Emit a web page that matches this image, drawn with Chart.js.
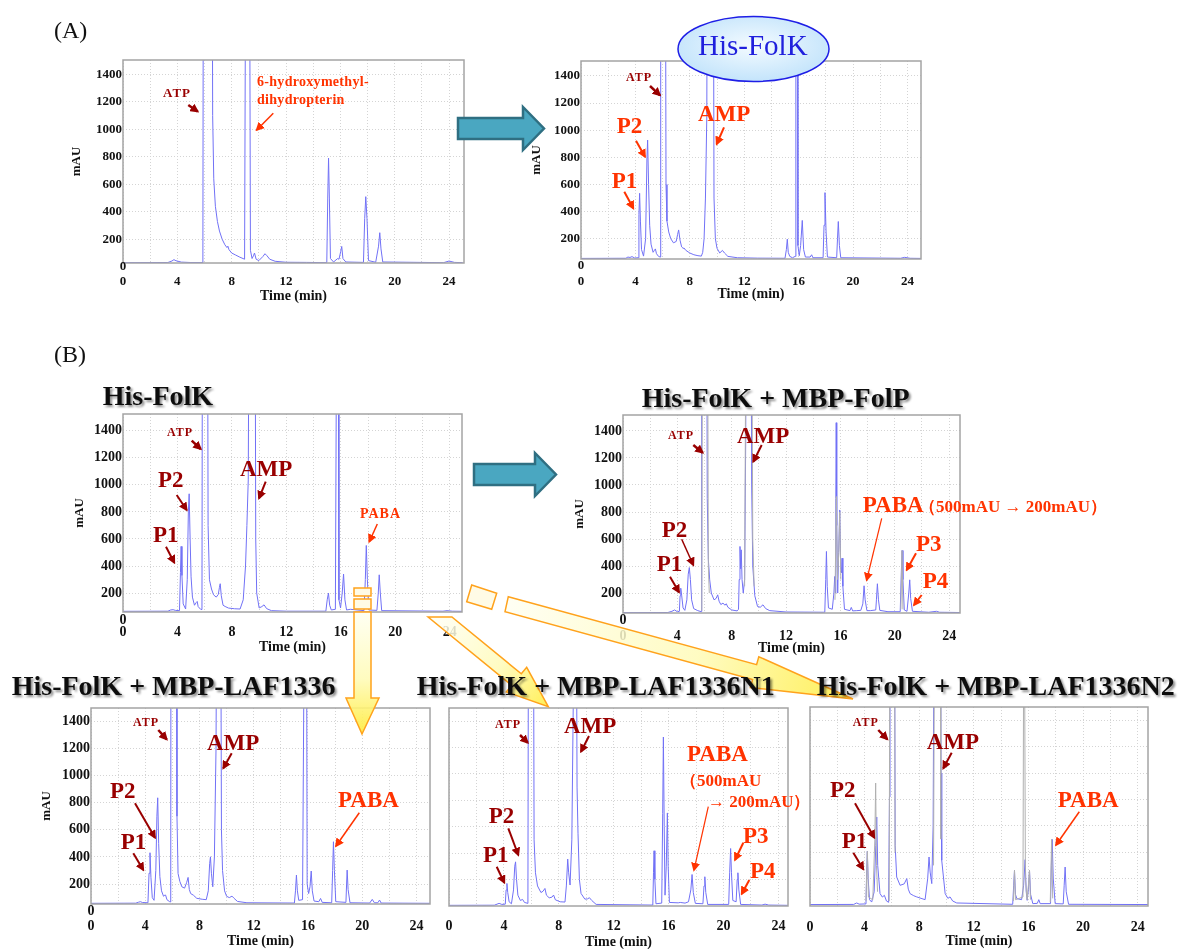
<!DOCTYPE html>
<html>
<head>
<meta charset="utf-8">
<script src="https://cdn.jsdelivr.net/npm/chart.js@4.4.1/dist/chart.umd.min.js"></script>
<style>
  html, body { margin: 0; padding: 0; background: #fff; }
  #wrap { position: relative; width: 1189px; height: 949px; overflow: hidden; }
  #wrap canvas { position: absolute; }
  #overlay { position: absolute; left: 0; top: 0; z-index: 2; }
</style>
</head>
<body>
<div id="wrap">
  <svg id="overlay" width="1189" height="949" xmlns="http://www.w3.org/2000/svg"></svg>
</div>
<script>
// ---- axis ticks ----
const xGrid = [0, 2, 4, 6, 8, 10, 12, 14, 16, 18, 20, 22, 24];
const xLabels = [0, 4, 8, 12, 16, 20, 24];
const yGrid = [200, 400, 600, 800, 1000, 1200, 1400];
const yZero = 0;

// ---- traces: [time (min), mAU]; values above the axis top are clipped ----
// (A) substrates only
const controlA = [
  [0,30],[3.3,31],[3.6,42],[3.75,52],[3.9,44],[4.3,34],[5.0,31],[5.88,31],
  [5.92,3000],[6.55,3000],[6.6,1100],[6.68,640],[6.8,440],[6.95,330],[7.1,260],[7.3,200],[7.5,160],[7.65,140],[7.72,150],[7.8,125],[8.0,100],[8.3,85],[8.6,70],[8.95,55],
  [9.05,3000],[9.3,3000],[9.38,120],[9.5,60],[9.6,80],[9.68,100],[9.8,55],[10.0,45],[10.3,75],[10.45,95],[10.6,80],[10.8,55],[11.2,40],[12,33],[13.5,32],[15.0,30],
  [15.07,500],[15.13,790],[15.19,500],[15.27,60],[15.5,35],[15.8,60],[15.9,55],[16.02,110],[16.1,148],[16.19,60],[16.4,35],[17.7,32],
  [17.79,350],[17.87,510],[17.96,350],[18.07,45],[18.6,33],[18.81,150],[18.9,248],[18.99,130],[19.12,35],[23.6,30],[24.0,42],[24.4,32],[25,30]
];
// (A) His-FolK
const folK_A = [
  [0,55],[3.3,56],[3.45,65],[3.6,62],[3.75,68],[3.95,58],[4.2,60],[4.26,380],[4.31,535],[4.37,330],[4.45,120],[4.6,72],[4.75,200],[4.85,800],[4.9,927],[4.97,600],[5.05,300],[5.15,160],[5.3,100],[5.4,115],[5.47,125],[5.55,90],[5.7,70],[5.82,65],
  [5.86,3000],[6.2,3000],[6.25,600],[6.32,330],[6.45,250],[6.6,200],[6.8,170],[7.0,180],[7.1,230],[7.18,265],[7.28,190],[7.4,140],[7.5,130],[7.57,132],[7.7,115],[8.0,95],[8.3,82],[8.6,75],[8.85,72],
  [8.95,100],[9.05,200],[9.15,500],[9.25,1100],[9.3,3000],[9.72,3000],[9.78,500],[9.88,200],[10.0,130],[10.2,95],[10.4,114],[10.55,95],[10.8,70],[11.5,60],[13,57],[15.0,56],
  [15.1,120],[15.17,197],[15.24,100],[15.35,70],[15.55,60],[15.75,70],[15.8,3000],[15.9,3000],[15.95,150],[16.05,75],[16.15,150],[16.27,335],[16.37,120],[16.5,65],[16.85,65],[16.96,82],[17.05,60],
  [17.8,60],[17.87,300],[17.94,540],[18.02,250],[18.12,65],[18.8,60],[18.86,200],[18.92,327],[19.0,150],[19.1,60],[23.5,56],[23.8,63],[24.2,56],[25,55]
];
// (B) His-FolK
const folK_B = [
  [0,65],[3.3,66],[3.5,75],[3.68,77],[3.85,72],[4.15,70],[4.22,350],[4.27,545],[4.33,330],[4.42,120],[4.6,82],[4.72,300],[4.8,800],[4.86,934],[4.93,600],[5.0,320],[5.1,170],[5.25,110],[5.38,130],[5.45,138],[5.52,100],[5.7,80],[5.8,78],
  [5.84,3000],[6.2,3000],[6.25,700],[6.35,298],[6.5,230],[6.65,187],[6.85,170],[7.0,190],[7.08,240],[7.14,269],[7.22,180],[7.35,110],[7.5,101],[7.75,89],[8.2,84],[8.6,82],
  [8.83,150],[9.0,400],[9.1,700],[9.2,1037],[9.28,3000],[9.69,3000],[9.75,600],[9.82,200],[10.0,90],[10.2,100],[10.36,113],[10.55,85],[10.9,70],[12,66],[14.9,66],
  [15.0,150],[15.09,200],[15.18,110],[15.3,75],[15.6,80],[15.72,3000],[15.8,3000],[15.86,150],[15.98,90],[16.1,200],[16.2,341],[16.3,150],[16.42,75],[16.7,80],[17.7,70],
  [17.8,300],[17.87,552],[17.95,300],[18.05,75],[18.65,72],[18.75,200],[18.82,335],[18.9,200],[19.0,70],[23.5,66],[23.8,70],[24.2,66],[25,65]
];
// His-FolK + MBP-FolP (blue) with the His-FolK reference (gray)
const folP_blue = [
  [0,55],[3.3,56],[3.6,65],[3.8,75],[4.0,62],[4.15,65],[4.2,180],[4.25,236],[4.32,180],[4.42,90],[4.55,72],[4.7,150],[4.8,340],[4.88,389],[4.96,300],[5.05,150],[5.2,85],[5.5,70],[5.77,62],
  [5.79,3000],[6.15,3000],[6.2,900],[6.28,450],[6.38,298],[6.5,200],[6.7,150],[6.85,160],[6.97,187],[7.07,140],[7.2,115],[7.36,126],[7.5,110],[7.6,121],[7.72,95],[8.0,75],[8.4,68],
  [8.5,80],[8.55,300],[8.61,545],[8.66,380],[8.7,520],[8.76,300],[8.85,200],[8.95,300],[9.03,1334],[9.08,3000],[9.4,3000],[9.47,1000],[9.55,400],[9.7,180],[9.9,101],[10.1,95],[10.3,113],[10.5,85],[10.8,70],[12,60],[14.85,58],
  [14.92,300],[14.97,508],[15.03,250],[15.12,90],[15.4,80],[15.52,200],[15.58,323],[15.63,200],[15.66,900],[15.69,1461],[15.73,700],[15.8,200],[15.87,500],[15.95,815],[16.02,400],[16.08,350],[16.12,458],[16.18,250],[16.3,80],
  [16.7,70],[16.8,94],[16.9,68],[17.2,70],[17.5,72],[17.65,120],[17.74,254],[17.82,150],[17.95,70],[18.2,70],[18.6,75],[18.65,150],[18.72,269],[18.8,150],[18.9,72],[19.5,62],
  [20.4,62],[20.48,350],[20.54,515],[20.6,300],[20.7,75],[20.9,65],[21.03,200],[21.1,298],[21.17,160],[21.3,65],[22.5,58],[23.07,65],[23.3,58],[24.8,56]
];
const folP_gray = [
  [5.8,70],[5.86,3000],[6.21,3000],[6.28,400],[6.35,200],[6.4,null],
  [8.95,250],[9.08,3000],[9.45,3000],[9.55,600],[9.65,250],[9.7,null],
  [15.6,150],[15.7,915],[15.78,300],[15.88,500],[15.95,800],[16.03,300],[16.1,null],
  [20.45,80],[20.53,515],[20.6,80]
];
// His-FolK + MBP-LAF1336
const laf1336 = [
  [0,58],[3.3,59],[3.5,66],[3.64,70],[3.8,64],[4.2,62],[4.28,280],[4.35,431],[4.42,250],[4.52,100],[4.65,80],[4.78,300],[4.86,700],[4.92,836],[4.99,500],[5.08,254],[5.2,150],[5.35,110],[5.45,119],[5.5,119],[5.6,85],[5.8,70],[5.88,68],
  [5.9,3000],[6.3,3000],[6.34,700],[6.42,278],[6.55,220],[6.7,180],[6.9,170],[7.05,210],[7.16,249],[7.25,160],[7.35,130],[7.55,118],[7.8,95],[8.2,88],[8.5,85],
  [8.65,150],[8.75,350],[8.81,401],[8.88,280],[8.98,180],[9.1,400],[9.22,1200],[9.3,3000],[9.55,3000],[9.62,600],[9.7,300],[9.85,150],[10.0,110],[10.2,100],[10.4,111],[10.55,95],[10.8,72],[11.5,62],[15.0,60],
  [15.08,150],[15.15,266],[15.22,150],[15.32,80],[15.6,85],[15.78,3000],[15.88,3000],[15.94,200],[16.05,130],[16.15,180],[16.24,296],[16.32,150],[16.45,75],[16.8,70],[16.93,94],[17.05,65],
  [17.75,62],[17.82,300],[17.88,512],[17.95,300],[18.05,70],[18.8,65],[18.85,200],[18.89,303],[18.96,160],[19.1,62],[20.55,60],[20.74,87],[20.9,62],[21.15,62],[21.28,82],[21.4,60],[25,58]
];
// His-FolK + MBP-LAF1336N1
const laf1336N1 = [
  [0,3],[3.3,4],[3.5,12],[3.65,18],[3.85,10],[4.1,12],[4.16,120],[4.22,169],[4.28,100],[4.38,30],[4.55,15],[4.7,120],[4.79,300],[4.85,333],[4.92,200],[5.02,80],[5.2,40],[5.36,48],[5.5,25],[5.75,18],
  [5.8,3000],[6.14,3000],[6.2,500],[6.3,250],[6.45,150],[6.7,100],[6.85,110],[6.99,131],[7.1,80],[7.3,60],[7.5,65],[7.62,81],[7.75,45],[8.1,30],[8.45,28],
  [8.55,150],[8.65,354],[8.72,250],[8.82,157],[8.95,500],[9.05,1500],[9.09,3000],[9.26,3000],[9.33,900],[9.4,550],[9.5,200],[9.62,93],[9.9,50],[10.1,52],[10.23,61],[10.4,40],[10.72,10],[14.85,5],
  [14.9,250],[14.94,417],[15.0,200],[15.08,15],[15.5,20],[15.57,700],[15.62,1280],[15.68,600],[15.74,80],[15.83,300],[15.91,704],[15.97,300],[16.06,25],[16.7,22],[16.85,25],[17.2,20],[17.45,30],
  [17.62,120],[17.71,237],[17.8,100],[17.95,18],[18.5,15],[18.58,150],[18.64,220],[18.71,100],[18.85,10],[20.38,10],[20.45,250],[20.52,434],[20.58,250],[20.68,40],[20.92,30],[21.0,200],[21.05,250],[21.12,120],[21.25,10],
  [22.8,5],[23.03,12],[23.3,5],[24.7,3]
];
// His-FolK + MBP-LAF1336N2 (blue) with the His-FolK reference (gray)
const laf1336N2_blue = [
  [0,3],[3.2,4],[3.42,15],[3.6,6],[4.1,8],[4.15,250],[4.2,407],[4.26,200],[4.36,40],[4.52,22],[4.7,100],[4.82,450],[4.89,668],[4.96,300],[5.13,86],[5.3,60],[5.45,73],[5.6,30],[5.76,20],
  [5.82,820],[5.86,1500],[5.9,3000],[6.18,3000],[6.24,450],[6.35,212],[6.6,149],[6.9,160],[7.09,200],[7.2,120],[7.33,86],[7.6,70],[7.82,61],[8.43,40],
  [8.62,200],[8.72,364],[8.8,250],[8.92,162],[9.02,600],[9.12,3000],[9.55,3000],[9.6,1000],[9.65,339],[9.9,86],[10.1,50],[10.26,61],[10.45,30],[10.75,15],[14.85,5],
  [14.92,150],[14.98,263],[15.05,80],[15.15,48],[15.5,40],[15.65,150],[15.76,344],[15.84,100],[15.91,35],[16.0,120],[16.08,263],[16.16,80],[16.32,10],[16.65,12],[16.76,40],[16.86,10],
  [17.62,10],[17.68,300],[17.74,498],[17.82,200],[17.96,10],[18.55,8],[18.62,150],[18.69,288],[18.77,100],[18.94,5],[24.76,3]
];
const laf1336N2_gray = [
  [4.1,30],[4.2,407],[4.28,60],[4.6,40],[4.75,500],[4.81,926],[4.87,300],[4.95,100],[5.0,null],
  [5.8,30],[5.87,3000],[6.18,3000],[6.23,400],[6.3,null],
  [9.05,300],[9.16,3000],[9.53,3000],[9.58,500],[9.7,null],
  [14.9,30],[14.98,263],[15.05,40],[15.6,60],[15.68,3000],[15.72,3000],[15.78,200],[15.9,40],[16.0,150],[16.08,263],[16.15,40],[16.3,null],
  [17.6,20],[17.7,498],[17.78,50]
];

const BLUE = '#7171f6', GRAY = '#b0b0b0';
const DR = '#990000', OR = '#ff3300';
const SERIF = "'Liberation Serif', 'Times New Roman', serif";
const W = 62, H = 48, PT = 4, PR = 4;

const panels = [
  { l: 123, t: 60, r: 464, b: 263, xmax: 25.1, ymin: 27.6, ymax: 1504, yLab: true, tick: 13, tp: 11, ttp: 6.6, ytp: 7.6, series: [[controlA, BLUE]] },
  { l: 581, t: 61, r: 921, b: 259, xmax: 25.0, ymin: 50.7, ymax: 1510, yLab: true, tick: 13, tp: 14.6, ttp: 3.9, ytp: 9.9, series: [[folK_A, BLUE]] },
  { l: 123, t: 414, r: 462, b: 612, xmax: 24.9, ymin: 60, ymax: 1524, yLab: true, tick: 14, tp: 12.3, ttp: 3.9, ytp: 10.9, series: [[folK_B, BLUE]] },
  { l: 623, t: 415, r: 960, b: 613, xmax: 24.8, ymin: 52.5, ymax: 1518, yLab: true, tick: 14, tp: 15, ttp: 4.3, ytp: 10.9, series: [[folP_gray, GRAY], [folP_blue, BLUE]] },
  { l: 91, t: 708, r: 430, b: 904, xmax: 25.0, ymin: 53, ymax: 1498, yLab: true, tick: 14, tp: 14.3, ttp: 1.9, ytp: 10.2, series: [[laf1336, BLUE]] },
  { l: 449, t: 708, r: 788, b: 906, xmax: 24.7, ymin: -2, ymax: 1500, yLab: false, tick: 14, tp: 12.3, ttp: 2.9, ytp: 0, series: [[laf1336N1, BLUE]] },
  { l: 810, t: 707, r: 1148, b: 906, xmax: 24.76, ymin: -8, ymax: 1503, yLab: false, tick: 14, tp: 13.3, ttp: 4.6, ytp: 0, series: [[laf1336N2_gray, GRAY], [laf1336N2_blue, BLUE]] }
];

const framePlugin = {
  id: 'frame',
  afterDraw(chart, args, opts) {
    const { ctx, chartArea: a } = chart;
    ctx.save();
    ctx.strokeStyle = '#a4a4a4';
    ctx.lineWidth = 1.5;
    ctx.strokeRect(a.left, a.top, a.right - a.left, a.bottom - a.top);
    if (opts.zero) {
      ctx.fillStyle = '#111';
      ctx.font = 'bold ' + opts.size + 'px ' + SERIF;
      ctx.textAlign = 'center';
      ctx.textBaseline = 'middle';
      ctx.fillText(String(yZero), a.left, chart.scales.y.getPixelForValue(yZero));
    }
    ctx.restore();
  }
};

const wrap = document.getElementById('wrap');
const svg = document.getElementById('overlay');
const noPad = s => { s.paddingTop = 0; s.paddingBottom = 0; s.paddingLeft = 0; s.paddingRight = 0; };

panels.forEach(p => {
  const cv = document.createElement('canvas');
  cv.width = W + p.r - p.l + PR;
  cv.height = PT + p.b - p.t + H;
  cv.style.left = (p.l - W) + 'px';
  cv.style.top = (p.t - PT) + 'px';
  wrap.insertBefore(cv, svg);

  new Chart(cv, {
    type: 'line',
    data: {
      datasets: p.series.map(([pts, color], i) => ({
        data: pts.map(([x, y]) => ({ x, y })),
        borderColor: color,
        borderWidth: 1,
        pointRadius: 0,
        tension: 0,
        spanGaps: false,
        order: i
      }))
    },
    options: {
      responsive: false,
      animation: false,
      devicePixelRatio: 1,
      layout: { padding: { top: PT, right: PR, left: 0, bottom: 0 } },
      plugins: {
        legend: { display: false },
        tooltip: { enabled: false },
        frame: { zero: p.yLab, size: p.tick }
      },
      scales: {
        x: {
          type: 'linear', min: 0, max: p.xmax,
          afterBuildTicks: s => { s.ticks = xGrid.map(v => ({ value: v })); },
          afterFit: s => { s.height = H; noPad(s); },
          grid: { color: '#d4d4d4', lineWidth: 1, drawTicks: false },
          border: { display: false, dash: [1, 2] },
          ticks: {
            padding: p.tp, color: '#111', maxRotation: 0, autoSkip: false,
            font: { family: SERIF, size: p.tick, weight: 'bold' },
            callback: v => xLabels.includes(v) ? String(v) : ''
          },
          title: {
            display: true, text: 'Time (min)', color: '#111',
            font: { family: SERIF, size: 14, weight: 'bold' },
            padding: { top: 0, bottom: p.ttp }
          }
        },
        y: {
          type: 'linear', min: p.ymin, max: p.ymax,
          afterBuildTicks: s => { s.ticks = yGrid.map(v => ({ value: v })); },
          afterFit: s => { s.width = W; noPad(s); },
          grid: { color: '#d4d4d4', lineWidth: 1, drawTicks: false },
          border: { display: false, dash: [1, 2] },
          ticks: {
            display: p.yLab, padding: 1, color: '#111',
            font: { family: SERIF, size: p.tick, weight: 'bold' },
            callback: v => String(v)
          },
          title: {
            display: p.yLab, text: 'mAU', color: '#111',
            font: { family: SERIF, size: 13, weight: 'bold' },
            padding: { top: p.ytp, bottom: 0 }
          }
        }
      }
    },
    plugins: [framePlugin]
  });
});

// ---- overlay: titles, labels, pointer arrows, connector shapes ----
const NS = 'http://www.w3.org/2000/svg';
const el = (tag, attrs, parent = svg) => {
  const e = document.createElementNS(NS, tag);
  Object.entries(attrs).forEach(([k, v]) => e.setAttribute(k, v));
  parent.appendChild(e);
  return e;
};

const defs = el('defs', {});
[['mDR', DR], ['mOR', OR]].forEach(([id, c]) => {
  const m = el('marker', { id, viewBox: '0 0 10 10', refX: 8, refY: 5, markerUnits: 'userSpaceOnUse', markerWidth: 9, markerHeight: 9, orient: 'auto' }, defs);
  el('path', { d: 'M0,0 L10,5 L0,10 z', fill: c }, m);
});
const grad = (id, x1, y1, x2, y2, stops) => {
  const g = el('linearGradient', { id, gradientUnits: 'userSpaceOnUse', x1, y1, x2, y2 }, defs);
  stops.forEach(([o, c]) => el('stop', { offset: o, 'stop-color': c }, g));
};
const yellowStops = [[0, '#fffff2'], [0.55, '#fffbb8'], [1, '#ffec3a']];
grad('gDown', 0, 612, 0, 734, yellowStops);
grad('gN1', 440, 617, 548, 707, yellowStops);
grad('gN2', 507, 604, 853, 699, yellowStops);
const rg = el('radialGradient', { id: 'gEll', cx: '50%', cy: '45%', r: '60%' }, defs);
el('stop', { offset: 0, 'stop-color': '#f4fbff' }, rg);
el('stop', { offset: 1, 'stop-color': '#bfe2fb' }, rg);
const f = el('filter', { id: 'shadow', x: '-5%', y: '-20%', width: '115%', height: '160%' }, defs);
el('feDropShadow', { dx: 2, dy: 2, stdDeviation: 1.3, 'flood-color': '#000', 'flood-opacity': 0.45 }, f);

// orange connectors
const orange = { stroke: '#ffa21c', 'stroke-width': 1.5, 'stroke-linejoin': 'miter' };
el('rect', { x: 354, y: 588, width: 17, height: 8, fill: '#fffbe6', ...orange });
el('rect', { x: 354, y: 599, width: 17, height: 10, fill: '#fffbe6', ...orange });
el('polygon', { points: '354,612 371,612 371,698 379,698 362,734 346,698 354,698', fill: 'url(#gDown)', 'fill-opacity': 0.9, ...orange });
el('polygon', { points: '471.7,585 496.7,593.3 491.7,609.3 466.7,601.7', fill: '#fffbe6', ...orange });
el('polygon', { points: '428.1,617 451.9,617 521.3,673.8 526.7,667.3 548.3,706.7 506.3,691.9 511.7,685.4', fill: 'url(#gN1)', 'fill-opacity': 0.85, ...orange });
el('polygon', { points: '508.3,596.7 756.6,664.7 758.8,656.7 853,699 750.4,687.5 752.6,679.5 505,611.7', fill: 'url(#gN2)', 'fill-opacity': 0.85, ...orange });

// teal block arrows
const teal = { fill: '#4aa7c1', stroke: '#2f6f82', 'stroke-width': 2.5, 'stroke-linejoin': 'miter' };
el('polygon', { points: '458,118 523,118 523,107 544,128.5 523,150 523,139 458,139', ...teal });
el('polygon', { points: '474,464 535,464 535,453 556,474.5 535,496 535,485 474,485', ...teal });

// ellipse label
el('ellipse', { cx: 753.5, cy: 49, rx: 75.5, ry: 32.5, fill: 'url(#gEll)', stroke: '#1e1ee6', 'stroke-width': 1.5 });

const text = (s, x, y, size, color, opts = {}) => {
  const t = el('text', {
    x, y, 'font-family': SERIF, 'font-size': size, fill: color,
    'font-weight': opts.normal ? 'normal' : 'bold',
    'letter-spacing': opts.ls || 0
  });
  if (opts.shadow) t.setAttribute('filter', 'url(#shadow)');
  t.textContent = s;
};
text('His-FolK', 698, 55, 29, '#2020dd', { normal: true });
text('(A)', 54, 38, 24, '#111', { normal: true });
text('(B)', 54, 362, 24, '#111', { normal: true });

// panel titles
[
  ['His-FolK', 102.7, 405],
  ['His-FolK + MBP-FolP', 641.7, 406.5],
  ['His-FolK + MBP-LAF1336', 11.7, 695],
  ['His-FolK + MBP-LAF1336N1', 416.7, 695],
  ['His-FolK + MBP-LAF1336N2', 816.7, 695]
].forEach(([s, x, y]) => text(s, x, y, 28, '#111', { shadow: true }));

// peak labels: text, x, baseline, size, color, letter spacing
const labels = [
  ['ATP', 163, 96.5, 13, DR, 1], ['6-hydroxymethyl-', 257, 86, 14, OR, 0.3], ['dihydropterin', 257, 104, 14, OR, 0.3],
  ['ATP', 626, 81, 12, DR, 1], ['P2', 616.7, 132.7, 23, OR], ['P1', 611.7, 187.7, 23, OR], ['AMP', 698, 121, 23, OR],
  ['ATP', 167, 436, 12, DR, 1], ['P2', 158, 487.3, 23, DR], ['P1', 153, 542.3, 23, DR], ['AMP', 240, 476, 23, DR], ['PABA', 360, 517.7, 14, OR, 1],
  ['ATP', 668, 438.7, 12, DR, 1], ['AMP', 737, 442.7, 23, DR], ['P2', 661.7, 536.7, 23, DR], ['P1', 656.7, 570.7, 23, DR],
  ['PABA', 862.7, 511.7, 23, OR], ['（500mAU → 200mAU）', 919, 511.7, 17, OR], ['P3', 916, 551, 23, OR], ['P4', 922.7, 588.3, 23, OR],
  ['ATP', 133, 726, 12, DR, 1], ['AMP', 207, 750, 23, DR], ['P2', 110, 797.7, 23, DR], ['P1', 120.7, 849, 23, DR], ['PABA', 338, 807.3, 23, OR],
  ['ATP', 495, 728, 12, DR, 1], ['AMP', 564, 732.7, 23, DR], ['P2', 488.7, 823.3, 23, DR], ['P1', 483, 862.3, 23, DR],
  ['PABA', 687, 761, 23, OR], ['（500mAU', 680, 786, 17, OR], ['→ 200mAU）', 708, 807.3, 17, OR], ['P3', 743, 842.7, 23, OR], ['P4', 750, 878.3, 23, OR],
  ['ATP', 852.7, 725.7, 12, DR, 1], ['AMP', 926.7, 749.3, 23, DR], ['P2', 830, 797.3, 23, DR], ['P1', 841.7, 847.7, 23, DR], ['PABA', 1057.7, 807.3, 23, OR]
];
labels.forEach(([s, x, y, size, c, ls]) => text(s, x, y, size, c, { ls }));

// pointer arrows: x1, y1, x2, y2, colour, width
const pointers = [
  [188.3, 105, 197.7, 111.5, DR, 2.5], [273.3, 113.3, 256.7, 130, OR, 1.5],
  [650, 86, 660, 95.3, DR, 2.5], [636, 140.7, 645, 156.7, OR, 2], [624.3, 191.7, 633.3, 208.3, OR, 2], [724, 127.3, 716.7, 144, OR, 2],
  [191.7, 440.7, 200.7, 449, DR, 2.5], [176.7, 495, 186.7, 510, DR, 2], [166, 546.7, 174.3, 562.7, DR, 2], [265.7, 481.7, 259, 498.3, DR, 2], [377.3, 524, 369.3, 541.7, OR, 1.5],
  [693.3, 445, 702.7, 452.7, DR, 2.5], [761.7, 445, 753.3, 461.7, DR, 2], [681.7, 539.3, 693.3, 565, DR, 1.5], [670, 576.7, 679, 592.3, DR, 2],
  [881.7, 518.3, 866.7, 580, OR, 1.2], [916, 553.3, 906.7, 570, OR, 2], [921.7, 595, 914, 605, OR, 2],
  [158.3, 730, 166.7, 739.3, DR, 2.5], [231.7, 753.3, 223.3, 768.3, DR, 2], [135, 803.3, 155, 837.7, DR, 2], [133.3, 853.3, 143.3, 870, DR, 2], [359.3, 812.7, 336, 846, OR, 1.5],
  [520, 735, 527.7, 742.7, DR, 2.5], [589, 736, 581, 751.7, DR, 2], [508.3, 828.3, 518.3, 855, DR, 2], [496.7, 866.7, 504.3, 882.7, DR, 2],
  [708.3, 806.7, 694, 870, OR, 1.2], [743.3, 842.7, 735, 860, OR, 2], [749.3, 880, 741.7, 894, OR, 2],
  [878.3, 730, 887.3, 739.3, DR, 2.5], [951.7, 752.7, 943.3, 768.3, DR, 2], [855, 803.3, 874.3, 837.7, DR, 2], [853.3, 852.7, 863.3, 869.3, DR, 2], [1079.3, 811.7, 1056, 845, OR, 1.5]
];
pointers.forEach(([x1, y1, x2, y2, c, w]) => {
  el('line', { x1, y1, x2, y2, stroke: c, 'stroke-width': w, 'marker-end': c === DR ? 'url(#mDR)' : 'url(#mOR)' });
});
</script>
</body>
</html>
